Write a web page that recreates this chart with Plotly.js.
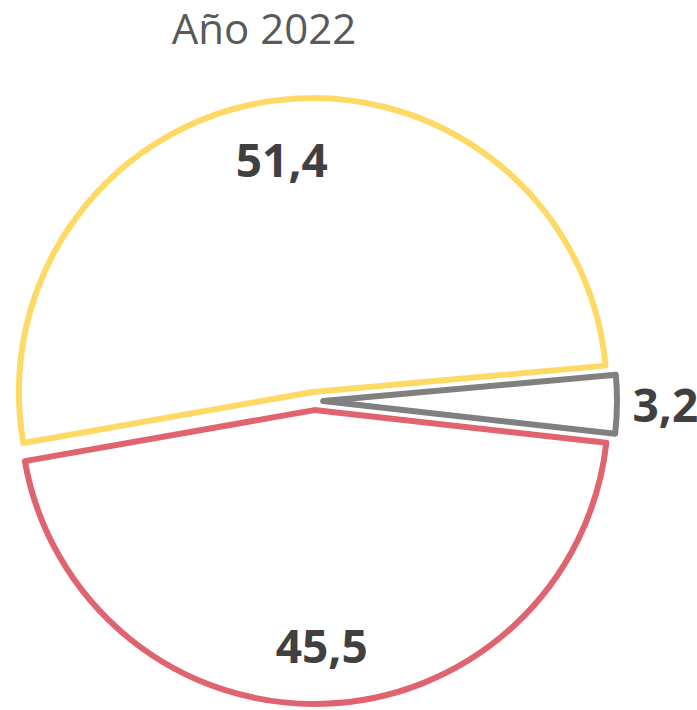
<!DOCTYPE html>
<html>
<head>
<meta charset="utf-8">
<script src="https://cdn.plot.ly/plotly-3.0.1.min.js"></script>
<style>html,body{margin:0;padding:0;background:#fff;}#chart{width:697px;height:710px;}</style>
</head>
<body>
<div id="chart"></div>
<script>
var categories = ["Serie A", "Serie B", "Serie C"];
var values = [51.4, 3.2, 45.5];
var valueLabels = ["51,4", "3,2", "45,5"];
var labelPositions = ["inside", "outside", "inside"];
var sliceColors = ["#FFD966", "#808080", "#E06470"];
var chartTitle = "Año 2022";

var common = {
  type: "pie",
  labels: categories,
  values: values,
  sort: false,
  direction: "clockwise",
  rotation: -100,
  pull: [0.031, 0.031, 0.031],
  showlegend: false,
  hoverinfo: "skip"
};

var mainTrace = Object.assign({}, common, {
  textinfo: "none",
  marker: {
    colors: ["#ffffff", "#ffffff", "#ffffff"],
    line: { color: sliceColors, width: 6 }
  }
});

var labelTrace = Object.assign({}, common, {
  hole: 0.6,
  text: valueLabels,
  textinfo: "text",
  textposition: labelPositions,
  insidetextorientation: "horizontal",
  textfont: { family: "Open Sans", size: 46, color: "#404040", weight: "bold" },
  marker: {
    colors: ["rgba(0,0,0,0)", "rgba(0,0,0,0)", "rgba(0,0,0,0)"],
    line: { width: 0 }
  }
});

var layout = {
  width: 697,
  height: 710,
  margin: { l: 11, r: 80, t: 98, b: 6 },
  paper_bgcolor: "#ffffff",
  title: {
    text: chartTitle,
    font: { family: "Open Sans", size: 42, color: "#595959" },
    xref: "container", yref: "container",
    x: 264 / 697, xanchor: "center",
    y: 1 - 29 / 710, yanchor: "middle"
  }
};

Plotly.newPlot("chart", [mainTrace, labelTrace], layout, { displayModeBar: false, staticPlot: true });
</script>
</body>
</html>
